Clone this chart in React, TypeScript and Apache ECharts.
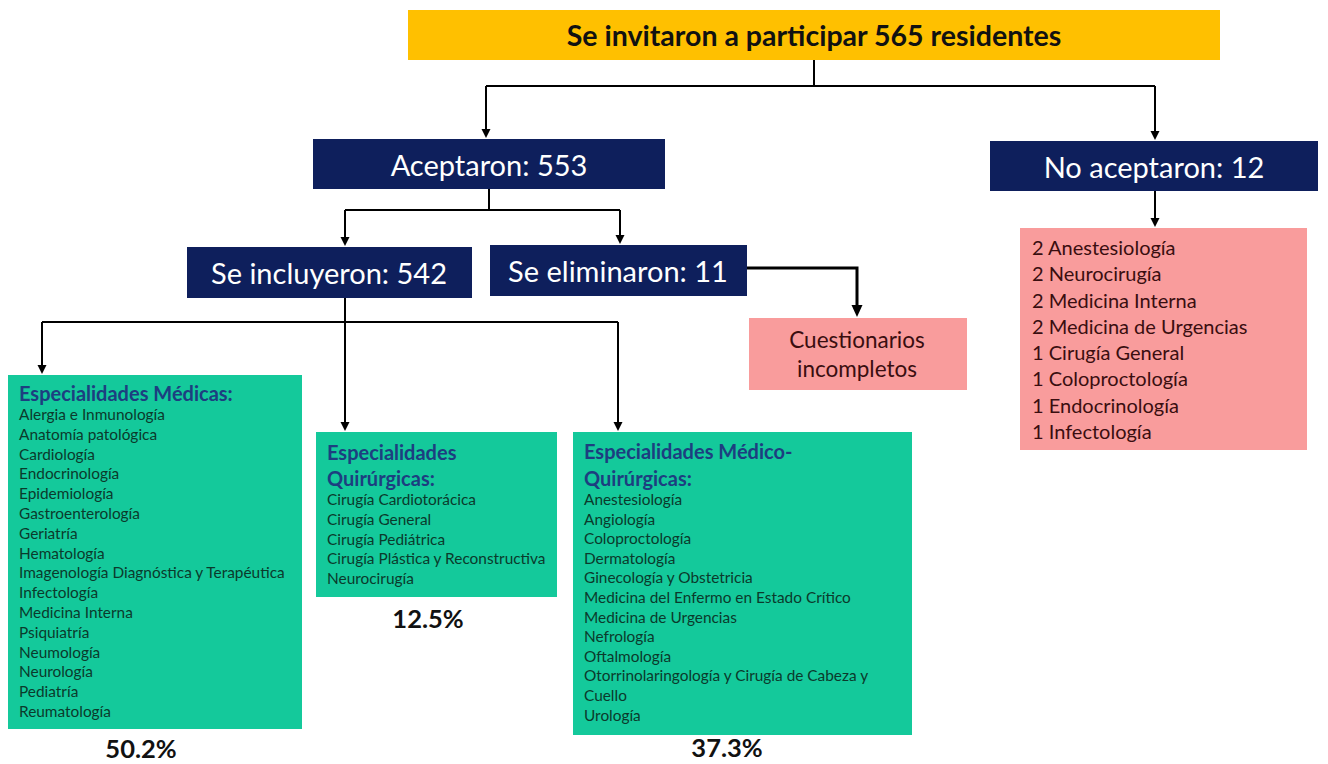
import React, { useEffect, useRef } from "react";
import * as echarts from "echarts";

const mainTitle = "Se invitaron a participar 565 residentes";
const acceptedLabel = "Aceptaron";
const acceptedCount = 553;
const rejectedLabel = "No aceptaron";
const rejectedCount = 12;
const includedLabel = "Se incluyeron";
const includedCount = 542;
const removedLabel = "Se eliminaron";
const removedCount = 11;
const removedReason = ["Cuestionarios", "incompletos"];

const rejectedCounts = [2, 2, 2, 2, 1, 1, 1, 1];
const rejectedSpecialties = [
  "Anestesiología",
  "Neurocirugía",
  "Medicina Interna",
  "Medicina de Urgencias",
  "Cirugía General",
  "Coloproctología",
  "Endocrinología",
  "Infectología",
];

const medicasTitle = ["Especialidades Médicas:"];
const medicas = [
  "Alergia e Inmunología",
  "Anatomía patológica",
  "Cardiología",
  "Endocrinología",
  "Epidemiología",
  "Gastroenterología",
  "Geriatría",
  "Hematología",
  "Imagenología Diagnóstica y Terapéutica",
  "Infectología",
  "Medicina Interna",
  "Psiquiatría",
  "Neumología",
  "Neurología",
  "Pediatría",
  "Reumatología",
];

const quirurgicasTitle = ["Especialidades", "Quirúrgicas:"];
const quirurgicas = [
  "Cirugía Cardiotorácica",
  "Cirugía General",
  "Cirugía Pediátrica",
  "Cirugía Plástica y Reconstructiva",
  "Neurocirugía",
];

const medQuirTitle = ["Especialidades Médico-", "Quirúrgicas:"];
const medQuir = [
  "Anestesiología",
  "Angiología",
  "Coloproctología",
  "Dermatología",
  "Ginecología y Obstetricia",
  "Medicina del Enfermo en Estado Crítico",
  "Medicina de Urgencias",
  "Nefrología",
  "Oftalmología",
  "Otorrinolaringología y Cirugía de Cabeza y",
  "Cuello",
  "Urología",
];

const percentages = ["50.2%", "12.5%", "37.3%"];

const FONT = "Lato, 'Open Sans', sans-serif";
const YELLOW = "#FFC000";
const NAVY = "#0E1F5C";
const GREEN = "#14C99B";
const PINK = "#F99C9C";
const TITLE_BLUE = "#1D3E80";
const ITEM_DARK = "#0B3A2C";
const PINK_TEXT = "#3A0E10";

function rect(x: number, y: number, w: number, h: number, fill: string) {
  return { type: "rect", shape: { x, y, width: w, height: h }, style: { fill } };
}

function text(
  x: number,
  y: number,
  str: string,
  size: number,
  fill: string,
  opts: any = {}
) {
  const align = opts.align || "center";
  const va = opts.va || "middle";
  return {
    type: "text",
    x,
    y,
    style: {
      text: str,
      fontSize: size,
      fontFamily: FONT,
      fontWeight: opts.bold ? "bold" : "normal",
      fill,
      align,
      verticalAlign: va,
      textAlign: align,
      textVerticalAlign: va,
      lineHeight: opts.lineHeight,
    },
  };
}

function line(pts: number[][], width = 2) {
  return {
    type: "polyline",
    shape: { points: pts },
    style: { stroke: "#000", lineWidth: width, fill: null },
  };
}

function arrowHead(x: number, y: number, w = 4.5, h = 9) {
  return {
    type: "polygon",
    shape: { points: [[x - w, y - h], [x + w, y - h], [x, y]] },
    style: { fill: "#000" },
  };
}

function vArrow(x: number, y1: number, y2: number, width = 2) {
  return [line([[x, y1], [x, y2 - 6]], width), arrowHead(x, y2, width > 2 ? 5.5 : 4.5, width > 2 ? 11 : 9)];
}

function listText(x: number, yFirst: number, items: string[], size: number, lh: number, fill: string, bold = false) {
  return text(x, yFirst - lh / 2, items.join("\n"), size, fill, {
    align: "left",
    va: "top",
    lineHeight: lh,
    bold,
  });
}

export default function App() {
  const ref = useRef<HTMLDivElement>(null);
  useEffect(() => {
    if (!ref.current) return;
    const chart = echarts.init(ref.current, undefined, { renderer: "svg" });
    const elements: any[] = [];

    // connectors
    elements.push(line([[814, 60], [814, 86]]));
    elements.push(line([[486, 86], [1155, 86]]));
    elements.push(...vArrow(486, 86, 138));
    elements.push(...vArrow(1155, 86, 140));
    elements.push(line([[489, 189], [489, 210]]));
    elements.push(line([[345, 210], [620, 210]]));
    elements.push(...vArrow(345, 210, 246));
    elements.push(...vArrow(620, 210, 244));
    elements.push(...vArrow(1155, 191, 227));
    elements.push(line([[747, 268], [857, 268], [857, 305]], 3));
    elements.push(arrowHead(857, 317, 5.5, 12));
    elements.push(...vArrow(345, 298, 431));
    elements.push(line([[42, 322], [618, 322]]));
    elements.push(...vArrow(42, 322, 374));
    elements.push(...vArrow(618, 322, 431));

    // top box
    elements.push(rect(408, 10, 812, 50, YELLOW));
    elements.push(text(814, 35, mainTitle, 28.5, "#111", { bold: true }));

    // navy boxes
    elements.push(rect(313, 139, 352, 50, NAVY));
    elements.push(text(489, 164, `${acceptedLabel}: ${acceptedCount}`, 29, "#fff"));
    elements.push(rect(990, 141, 328, 50, NAVY));
    elements.push(text(1154, 166, `${rejectedLabel}: ${rejectedCount}`, 29, "#fff"));
    elements.push(rect(187, 247, 285, 51, NAVY));
    elements.push(text(329, 272, `${includedLabel}: ${includedCount}`, 29, "#fff"));
    elements.push(rect(490, 245, 257, 51, NAVY));
    elements.push(text(618, 270, `${removedLabel}: ${removedCount}`, 29, "#fff"));

    // pink boxes
    elements.push(rect(749, 318, 218, 72, PINK));
    elements.push(text(857, 354, removedReason.join("\n"), 22.5, PINK_TEXT, { lineHeight: 29 }));
    elements.push(rect(1020, 228, 287, 222, PINK));
    elements.push(
      listText(
        1032,
        247,
        rejectedCounts.map((c, i) => `${c} ${rejectedSpecialties[i]}`),
        20,
        26.3,
        PINK_TEXT
      )
    );

    // green boxes
    elements.push(rect(8, 375, 294, 354, GREEN));
    elements.push(listText(19, 393, medicasTitle, 20, 26, TITLE_BLUE, true));
    elements.push(listText(19, 414, medicas, 15.4, 19.8, ITEM_DARK));
    elements.push(rect(316, 432, 241, 165, GREEN));
    elements.push(listText(327, 452, quirurgicasTitle, 20, 26, TITLE_BLUE, true));
    elements.push(listText(327, 499, quirurgicas, 15.4, 19.75, ITEM_DARK));
    elements.push(rect(573, 432, 339, 303, GREEN));
    elements.push(listText(584, 451, medQuirTitle, 20, 27, TITLE_BLUE, true));
    elements.push(listText(584, 499, medQuir, 15.4, 19.6, ITEM_DARK));

    // percentages
    elements.push(text(141, 748, percentages[0], 25.5, "#111", { bold: true }));
    elements.push(text(428, 618, percentages[1], 25.5, "#111", { bold: true }));
    elements.push(text(727, 747, percentages[2], 25.5, "#111", { bold: true }));

    chart.setOption({
      animation: false,
      backgroundColor: "#fff",
      graphic: { elements },
    });
    return () => chart.dispose();
  }, []);
  return (
    <div
      ref={ref}
      style={{ position: "fixed", left: 0, top: 0, width: 1328, height: 764 }}
    />
  );
}
